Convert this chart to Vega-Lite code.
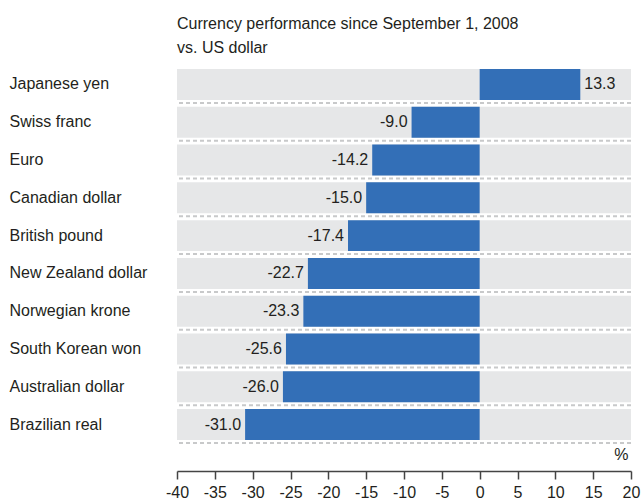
{
  "$schema": "https://vega.github.io/schema/vega-lite/v6.json",
  "width": 454,
  "height": 402,
  "autosize": {"type": "none"},
  "padding": {"left": 177, "top": 69, "right": 10, "bottom": 28},
  "background": "white",
  "config": {
    "font": "Liberation Sans",
    "view": {"stroke": null},
    "locale": {
      "number": {
        "decimal": ".",
        "thousands": ",",
        "grouping": [3],
        "currency": ["$", ""],
        "minus": "-"
      }
    },
    "axisX": {
      "labelOverlap": false,
      "grid": false,
      "titleFontSize": 16,
      "titleFontWeight": "normal",
      "titleColor": "#231f20",
      "titleAnchor": "end",
      "titleAlign": "right",
      "titleBaseline": "bottom",
      "titleX": 451,
      "titleY": -9,
      "domainColor": "#444444",
      "domainWidth": 1.5,
      "tickColor": "#444444",
      "tickWidth": 1.5,
      "tickSize": 8,
      "labelPadding": 5,
      "labelFontSize": 16,
      "labelColor": "#231f20",
      "labelFlush": false
    }
  },
  "title": {
    "text": ["Currency performance since September 1, 2008", "vs. US dollar"],
    "anchor": "start",
    "frame": "group",
    "fontSize": 16,
    "fontWeight": "normal",
    "color": "#231f20",
    "lineHeight": 24,
    "offset": 13
  },
  "data": {
    "values": [
      {"currency": "Japanese yen", "value": 13.3},
      {"currency": "Swiss franc", "value": -9.0},
      {"currency": "Euro", "value": -14.2},
      {"currency": "Canadian dollar", "value": -15.0},
      {"currency": "British pound", "value": -17.4},
      {"currency": "New Zealand dollar", "value": -22.7},
      {"currency": "Norwegian krone", "value": -23.3},
      {"currency": "South Korean won", "value": -25.6},
      {"currency": "Australian dollar", "value": -26.0},
      {"currency": "Brazilian real", "value": -31.0}
    ]
  },
  "encoding": {
    "y": {
      "field": "currency",
      "type": "nominal",
      "sort": null,
      "scale": {"paddingInner": 0.18, "paddingOuter": 0.41, "align": 0},
      "axis": {
        "title": null,
        "domain": false,
        "ticks": false,
        "tickSize": 0,
        "grid": false,
        "labelAlign": "left",
        "labelPadding": 168,
        "labelFontSize": 16,
        "labelColor": "#231f20",
        "labelLimit": 200
      }
    }
  },
  "layer": [
    {
      "mark": {"type": "bar", "color": "#e6e7e8"},
      "encoding": {
        "x": {
          "datum": -40,
          "type": "quantitative",
          "scale": {"domain": [-40, 20], "nice": false},
          "axis": {"values": [-40, -35, -30, -25, -20, -15, -10, -5, 0, 5, 10, 15, 20], "format": "d", "title": "%"}
        },
        "x2": {"datum": 20}
      }
    },
    {
      "mark": {"type": "rule", "color": "#c8c9ca", "strokeWidth": 2, "strokeDash": [4, 3], "yOffset": 3},
      "encoding": {
        "y": {"field": "currency", "type": "nominal", "sort": null, "bandPosition": 1}
      }
    },
    {
      "mark": {"type": "bar", "color": "#336fb7"},
      "encoding": {
        "x": {"field": "value", "type": "quantitative", "axis": {"values": [-40, -35, -30, -25, -20, -15, -10, -5, 0, 5, 10, 15, 20], "format": "d", "title": "%"}},
        "x2": {"datum": 0}
      }
    },
    {
      "mark": {"type": "rule", "color": "#555555", "strokeWidth": 1.6},
      "encoding": {
        "x": {"datum": 0, "type": "quantitative", "axis": {"values": [-40, -35, -30, -25, -20, -15, -10, -5, 0, 5, 10, 15, 20], "format": "d", "title": "%"}}
      }
    },
    {
      "transform": [{"filter": "datum.value < 0"}],
      "mark": {"type": "text", "align": "right", "baseline": "middle", "dx": -4, "fontSize": 16, "color": "#231f20"},
      "encoding": {
        "x": {"field": "value", "type": "quantitative", "axis": {"values": [-40, -35, -30, -25, -20, -15, -10, -5, 0, 5, 10, 15, 20], "format": "d", "title": "%"}},
        "text": {"field": "value", "type": "quantitative", "format": ".1f"}
      }
    },
    {
      "transform": [{"filter": "datum.value >= 0"}],
      "mark": {"type": "text", "align": "left", "baseline": "middle", "dx": 4, "fontSize": 16, "color": "#231f20"},
      "encoding": {
        "x": {"field": "value", "type": "quantitative", "axis": {"values": [-40, -35, -30, -25, -20, -15, -10, -5, 0, 5, 10, 15, 20], "format": "d", "title": "%"}},
        "text": {"field": "value", "type": "quantitative", "format": ".1f"}
      }
    }
  ]
}
